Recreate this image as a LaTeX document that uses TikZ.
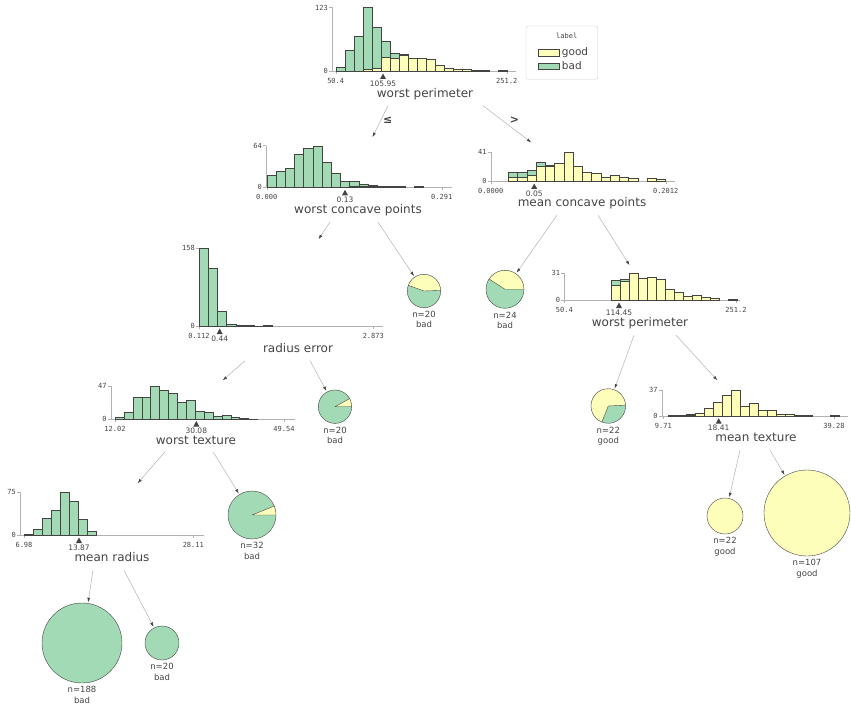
\documentclass[tikz,border=0pt]{standalone}
\usepackage{fontspec}
\setmainfont{DejaVu Sans}
\setmonofont{DejaVu Sans Mono}
\usetikzlibrary{arrows.meta,positioning,calc}

\definecolor{good}{HTML}{FEFEBB}
\definecolor{bad}{HTML}{A1DAB4}
\definecolor{ink}{HTML}{444443}

% stacked bars: x0, y0, bin width, px per count, good/bad counts
\newcommand{\histbars}[5]{%
  \foreach \yl/\gr [count=\i from 0] in {#5}{
    \ifdim\yl pt>0pt
      \filldraw[goodbar] (#1+\i*#3,#2) rectangle ++(#3,-\yl*#4);
    \fi
    \ifdim\gr pt>0pt
      \filldraw[badbar] (#1+\i*#3,#2-\yl*#4) rectangle ++(#3,-\gr*#4);
    \fi
  }}
% axes: x axis origin, y0, x end, y top, max count, tick1 x, tick1, tick2 x, tick2
\newcommand{\histaxes}[9]{%
  \draw[axis] (#1,#4) -- (#1,#2) -- (#3,#2);
  \draw[axis] (#1,#2) -- ++(-3,0) node[ylab] {0};
  \draw[axis] (#1,#4) -- ++(-3,0) node[ylab] {#5};
  \draw[axis] (#6,#2) -- ++(0,3);
  \draw[axis] (#8,#2) -- ++(0,3);
  \node[xlab] at (#6,#2+10) {#7};
  \node[xlab] at (#8,#2+10) {#9};
}
\newcommand{\splitat}[3]{%
  \fill[ink] (#1,#2+2.5) -- (#1-3,#2+8) -- (#1+3,#2+8) -- cycle;
  \node[splitlab] at (#1,#2+12.5) {#3};
}
% pie leaf: name, x, y, radius, good from, good to
\newcommand{\leafpie}[6]{%
  \fill[bad] (#2,#3) circle[radius=#4pt];
  \fill[good] (#2,#3) -- ++(#5:#4pt) arc[start angle=#5, end angle=#6, radius=#4pt] -- cycle;
  \draw[ink, line width=0.4pt] (#2,#3) -- ++(#5:#4pt) (#2,#3) -- ++(#6:#4pt);
  \node[leaf, minimum size=2*#4pt] (#1) at (#2,#3) {};
}

\begin{document}
\begin{tikzpicture}[x=1pt, y=-1pt, >={Latex[length=4.5pt,width=3pt,color=ink]},
  goodbar/.style={fill=good, draw=ink, line width=0.35pt},
  badbar/.style={fill=bad, draw=ink, line width=0.35pt},
  axis/.style={draw=gray!60, line width=0.4pt},
  xlab/.style={font=\fontsize{7}{8}\ttfamily, text=ink, inner sep=0pt},
  ylab/.style={font=\fontsize{7}{8}\ttfamily, text=ink, anchor=east, inner sep=1pt},
  splitlab/.style={font=\fontsize{7.5}{8}\selectfont, text=ink, inner sep=0pt},
  title/.style={font=\fontsize{12}{14}\selectfont, text=ink, inner sep=0pt, text height=8.5pt, text depth=2.5pt},
  leaf/.style={circle, draw=ink, line width=0.4pt, inner sep=0pt},
  leaflab/.style={font=\fontsize{8.5}{10.5}\selectfont, text=ink, align=center, inner sep=0pt, anchor=north},
  edge/.style={->, draw=gray!60, line width=0.5pt, shorten >=1pt},
  sign/.style={font=\fontsize{11}{12}\selectfont\bfseries, text=ink, inner sep=1pt}]
  \useasboundingbox (0,0) rectangle (851,711);

  % root
  \histaxes{332}{71}{516}{7.5}{123}{335.7}{50.4}{506.7}{251.2}
  \histbars{335.7}{71}{9}{0.516}{0/8,0/41,0/68,3/120,5/79,26/32,24/10,31/1,24/0,24/0,23/0,12/0,5/0,3/0,4/0,2/0,1/0,0/0,1/0}
  \splitat{383}{71}{105.95}
  \node[title] (wperim) at (425,95) {worst perimeter};

  % legend
  \draw[gray!40, rounded corners=2pt, fill=white] (526,26) rectangle (597.7,79.3);
  \node[font=\fontsize{7}{8}\ttfamily, text=ink] (legtitle) at (566.7,36) {label};
  \filldraw[goodbar] (538.3,49.3) rectangle (559.3,55.7);
  \filldraw[badbar] (538.3,62.7) rectangle (559.3,69);
  \node[font=\fontsize{10.5}{12}\selectfont, text=ink, anchor=west, inner sep=0pt] (leggood) at (561.7,52.3) {good};
  \node[font=\fontsize{10.5}{12}\selectfont, text=ink, anchor=west, inner sep=0pt] (legbad) at (561.7,66) {bad};

  % level 1
  \histaxes{266}{187.3}{451.7}{145.7}{64}{266.7}{0.000}{441.7}{0.291}
  \histbars{266.7}{187.3}{9.2}{0.65}{0/19,0/25,0/29,0/51,0/60,0/63,0/39,0/21,0/10,1/8,1/4,1/2,1/1,0/1,0/1,0/0,2/0,0/0,0/0}
  \splitat{345}{187.3}{0.13}
  \node[title] (wconc) at (358,210.5) {worst concave points};
  \coordinate (wconc-in) at (372,138);

  \histaxes{490.7}{181}{675}{152.3}{41}{490.7}{0.0000}{665.7}{0.2012}
  \histbars{508.3}{181}{9.25}{0.70}{5/7.4,5/8.3,8.6/7,20.5/6.5,21.5/0.5,25/0.5,41/0,20.5/0,12.4/0,11/0,5/0,8.6/0,5/0,3.8/0,0/0,3.8/0,2.4/0}
  \splitat{534.2}{181}{0.05}
  \node[title] (mconc) at (582,203.5) {mean concave points};
  \coordinate (mconc-in) at (532,143);

  % level 2
  \histaxes{199}{326}{382.7}{248.3}{158}{199}{0.112}{373.3}{2.873}
  \histbars{199}{326}{9.2}{0.49}{0/158,0/119,0/30.5,0/4,0/2,0/1.4,0/0.5,0/1.4}
  \splitat{219.7}{326}{0.44}
  \node[title] (raderr) at (298,349) {radius error};
  \coordinate (raderr-in) at (318,240);

  \leafpie{leafA}{424}{291}{16.7}{2}{160}
  \node[leaflab] at ([yshift=-3pt]leafA.south) {n=20\\bad};
  \leafpie{leafB}{505}{289.3}{19}{0}{147}
  \node[leaflab] at ([yshift=-3pt]leafB.south) {n=24\\bad};

  \histaxes{564.3}{300}{740}{273.3}{31}{564.3}{50.4}{736}{251.2}
  \histbars{610.7}{300}{9}{0.86}{16.7/6.6,22/2.4,31/0,25/0,26/0,24/0,12.4/0,9/0,3.9/0,5.4/0,3/0,2/0,0/0,0.8/0}
  \splitat{619}{300}{114.45}
  \node[title] (wperim2) at (640,323.5) {worst perimeter};
  \coordinate (wperim2-in) at (630,266);

  % level 3
  \histaxes{110.7}{419.3}{295}{385.7}{47}{115}{12.02}{284}{49.54}
  \histbars{115}{419.3}{8.9}{0.715}{0/2.8,0/10,0/31.6,0/30.7,0/46.5,0/41,0/37,0/23.7,0/26.5,0/10.7,0/9.8,0/4.7,0/6,0/3.3,0/1.4,0/0.5}
  \splitat{196.3}{418.5}{30.08}
  \node[title] (wtext) at (196,441) {worst texture};
  \coordinate (wtext-in) at (222,381);

  \leafpie{leafC}{335}{406.7}{16.7}{0}{29}
  \node[leaflab] at ([yshift=-3pt]leafC.south) {n=20\\bad};
  \leafpie{leafD}{608.3}{406}{17.3}{3}{248}
  \node[leaflab] at ([yshift=-3pt]leafD.south) {n=22\\good};

  \histaxes{661.7}{415.7}{848}{390}{37}{663.3}{9.71}{834}{39.28}
  \histbars{668.3}{415.7}{9}{0.695}{0.3/0.3,0.5/0,1.4/1,3.4/0,10.6/0,20/0,29/0,37/0,14/0,18.7/0,8.2/0,8.2/0,2/0,2/0,0.5/0,0.5/0,0/0,0/0,0.5/0}
  \splitat{718.7}{415.7}{18.41}
  \node[title] (mtext) at (756,438.5) {mean texture};
  \coordinate (mtext-in) at (718,381);

  % level 4
  \histaxes{20}{535}{204}{492.3}{75}{24}{6.98}{193.3}{28.11}
  \histbars{24.3}{535}{9}{0.57}{0/1,0/10,0/29,0/44,0/75,0/58.6,0/27.5,0/7}
  \splitat{79}{535}{13.87}
  \node[title] (mrad) at (112,558.5) {mean radius};
  \coordinate (mrad-in) at (137,484);

  \leafpie{leafE}{252}{515}{24}{0}{22}
  \node[leaflab] at ([yshift=-3pt]leafE.south) {n=32\\bad};
  \node[leaf, fill=good, minimum size=36] (leafF) at (725,516) {};
  \node[leaflab] at ([yshift=-3pt]leafF.south) {n=22\\good};
  \node[leaf, fill=good, minimum size=86] (leafG) at (807,513) {};
  \node[leaflab] at ([yshift=-3pt]leafG.south) {n=107\\good};

  % level 5
  \node[leaf, fill=bad, minimum size=80] (leafH) at (82,643) {};
  \node[leaflab] at ([yshift=-3pt]leafH.south) {n=188\\bad};
  \node[leaf, fill=bad, minimum size=34] (leafI) at (162,643) {};
  \node[leaflab] at ([yshift=-3pt]leafI.south) {n=20\\bad};

  % edges
  \draw[edge] ([xshift=-37,yshift=-5]wperim.south) -- node[pos=0.45, right=1pt, sign] {≤} (wconc-in);
  \draw[edge] ([xshift=58,yshift=-5]wperim.south) -- node[pos=0.4, right=6pt, sign] {>} (mconc-in);
  \draw[edge] ([xshift=-28,yshift=-6]wconc.south) -- (raderr-in);
  \draw[edge] ([xshift=20,yshift=-6]wconc.south) -- (leafA);
  \draw[edge] ([xshift=-25,yshift=-6]mconc.south) -- (leafB);
  \draw[edge] ([xshift=16,yshift=-6]mconc.south) -- (wperim2-in);
  \draw[edge] ([xshift=-53,yshift=-6]raderr.south) -- (wtext-in);
  \draw[edge] ([xshift=12,yshift=-6]raderr.south) -- (leafC);
  \draw[edge] ([xshift=-6,yshift=-6]wperim2.south) -- (leafD);
  \draw[edge] ([xshift=36,yshift=-6]wperim2.south) -- (mtext-in);
  \draw[edge] ([xshift=-31,yshift=-5]wtext.south) -- (mrad-in);
  \draw[edge] ([xshift=17,yshift=-5]wtext.south) -- (leafE);
  \draw[edge] ([xshift=-16,yshift=-6]mtext.south) -- (leafF);
  \draw[edge] ([xshift=14,yshift=-6]mtext.south) -- (leafG);
  \draw[edge] ([xshift=-19,yshift=-6]mrad.south) -- (leafH);
  \draw[edge] ([xshift=12,yshift=-6]mrad.south) -- (leafI);
\end{tikzpicture}
\end{document}
